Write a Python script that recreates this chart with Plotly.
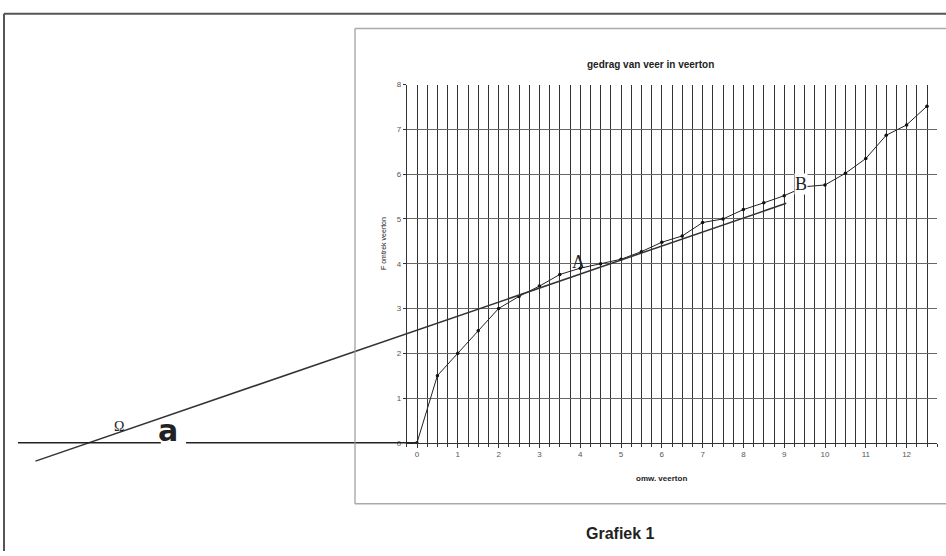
import plotly.graph_objects as go

# ---------------- data ----------------
omw = [0, 0.5, 1, 1.5, 2, 2.5, 3, 3.5, 4, 4.5, 5, 5.5, 6, 6.5, 7, 7.5, 8, 8.5, 9,
       9.5, 10, 10.5, 11, 11.5, 12, 12.5]
F_veer = [0, 1.5, 2.0, 2.5, 3.0, 3.27, 3.5, 3.76, 3.9, 4.0, 4.1, 4.27, 4.48, 4.62,
          4.92, 5.0, 5.21, 5.36, 5.52, 5.72, 5.76, 6.02, 6.35, 6.87, 7.1, 7.52]
raaklijn_x = [-9.35, 9.05]
raaklijn_y = [-0.41, 5.35]
basis_x = [-9.78, -6.28, None, -5.66, 0]
basis_y = [0, 0, None, 0, 0]
x_ticks = list(range(0, 13))
y_ticks = list(range(0, 9))

# ---------------- geometry (pixels) ----------------
W, H = 946, 556
X0, SX = 417.0, 40.8     # pixel of x=0, pixels per unit
Y0, SY = 446.0, 45.5     # pixel of y=0, pixels per unit


def px(x):
    return x / W


def py(y):
    return 1 - y / H


fig = go.Figure()

fig.add_trace(go.Scatter(x=omw, y=F_veer, mode="lines+markers",
                         line=dict(color="#222", width=1),
                         marker=dict(color="#111", size=3.5),
                         xaxis="x", yaxis="y", showlegend=False))
fig.add_trace(go.Scatter(x=raaklijn_x, y=raaklijn_y, mode="lines",
                         line=dict(color="#333", width=1.5),
                         xaxis="x2", yaxis="y2", showlegend=False))
fig.add_trace(go.Scatter(x=basis_x, y=basis_y, mode="lines",
                         line=dict(color="#222", width=1.5),
                         connectgaps=False,
                         xaxis="x2", yaxis="y2", showlegend=False))

xmin, xmax = -0.25, 12.75
ymin, ymax = 0, 8
tick_font = dict(family="Liberation Sans, Arial", size=8, color="#555")

fig.update_layout(
    width=W, height=H,
    margin=dict(l=0, r=0, t=0, b=0),
    paper_bgcolor="white",
    plot_bgcolor="rgba(0,0,0,0)",
    xaxis=dict(
        domain=[px(X0 + xmin * SX), px(X0 + xmax * SX)],
        range=[xmin, xmax], tickmode="array", tickvals=x_ticks,
        ticktext=[str(v) for v in x_ticks],
        showgrid=True, gridcolor="#333", gridwidth=1,
        showline=True, linecolor="#333", linewidth=1,
        ticks="outside", ticklen=4, tickcolor="#333",
        minor=dict(dtick=0.25, tick0=0, showgrid=True, gridcolor="#333",
                   gridwidth=1, ticks="outside", ticklen=3, tickcolor="#333"),
        zeroline=False, tickfont=tick_font, anchor="y",
    ),
    yaxis=dict(
        domain=[py(Y0), py(Y0 - ymax * SY)],
        range=[ymin, ymax], tickmode="array", tickvals=y_ticks,
        ticktext=[str(v) for v in y_ticks],
        showgrid=True, gridcolor="#666", gridwidth=1.2,
        showline=True, linecolor="#333", linewidth=1,
        ticks="outside", ticklen=3, tickcolor="#333",
        zeroline=False, tickfont=tick_font, anchor="x",
    ),
    xaxis2=dict(domain=[0, 1], range=[(0 - X0) / SX, (W - X0) / SX],
                visible=False, anchor="y2"),
    yaxis2=dict(domain=[0, 1], range=[(Y0 - H) / SY, Y0 / SY],
                visible=False, anchor="x2"),
)

# frames
shapes = [
    dict(type="line", xref="paper", yref="paper", x0=px(4), x1=px(4), y0=py(10), y1=py(H),
         line=dict(color="#555", width=2)),
    dict(type="line", xref="paper", yref="paper", x0=px(4), x1=px(W), y0=py(10), y1=py(10),
         line=dict(color="#555", width=2)),
    dict(type="line", xref="paper", yref="paper", x0=px(355), x1=px(355), y0=py(25), y1=py(508),
         line=dict(color="#999", width=1.2)),
    dict(type="line", xref="paper", yref="paper", x0=px(355), x1=px(W), y0=py(25), y1=py(25),
         line=dict(color="#aaa", width=1.5)),
    dict(type="line", xref="paper", yref="paper", x0=px(355), x1=px(W), y0=py(508), y1=py(508),
         line=dict(color="#aaa", width=1.5)),
]
fig.update_layout(shapes=shapes)

sans = "Liberation Sans, Arial"
serif = "Liberation Serif, Times New Roman"


def ann(text, x, y, size, family=sans, color="#222", **kw):
    fig.add_annotation(text=text, xref="paper", yref="paper", x=px(x), y=py(y),
                       showarrow=False, xanchor="center", yanchor="middle",
                       font=dict(family=family, size=size, color=color), **kw)


ann("<b>gedrag van veer in veerton</b>", 650, 62, 10)
ann("<b>omw. veerton</b>", 661, 482, 8)
ann("F omtrek veerton", 383, 244, 7, textangle=-90)
ann("<b>Grafiek 1</b>", 620, 538, 16)
ann("A", 578, 262, 18, family=serif)
ann("B", 801, 183, 18, family=serif, bgcolor="white", borderpad=0)
ann("Ω", 119, 429, 14, family=serif)
ann("<b>a</b>", 168, 434, 30, family="DejaVu Sans")

fig.write_html("out.html",
               config={"displayModeBar": False},
               post_script="document.body.style.margin='0';"
                           "document.body.style.overflow='hidden';")
